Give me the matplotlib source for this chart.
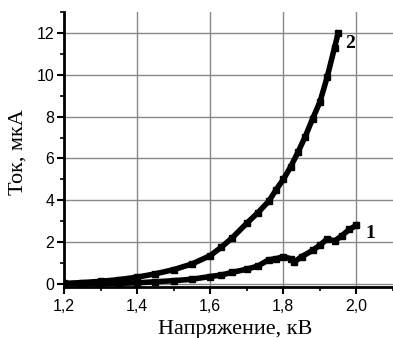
import matplotlib.pyplot as plt
from matplotlib.ticker import MultipleLocator, FuncFormatter

# curve 2 (upper)
u2 = [1.20, 1.25, 1.30, 1.35, 1.40, 1.45, 1.50, 1.55, 1.60, 1.63, 1.66, 1.70,
      1.73, 1.76, 1.78, 1.80, 1.82, 1.84, 1.86, 1.88, 1.90, 1.92, 1.94, 1.95]
i2 = [0.02, 0.06, 0.12, 0.20, 0.32, 0.48, 0.68, 0.95, 1.35, 1.75, 2.20, 2.90,
      3.40, 3.95, 4.50, 5.00, 5.60, 6.30, 7.05, 7.90, 8.70, 9.90, 11.3, 12.0]

# curve 1 (lower)
u1 = [1.20, 1.25, 1.30, 1.35, 1.40, 1.45, 1.50, 1.55, 1.60, 1.63, 1.66, 1.70,
      1.73, 1.76, 1.78, 1.80, 1.82, 1.83, 1.85, 1.88, 1.90, 1.92, 1.94, 1.96,
      1.98, 2.00]
i1 = [0.00, 0.00, 0.00, 0.02, 0.05, 0.10, 0.15, 0.22, 0.35, 0.42, 0.55, 0.70,
      0.85, 1.15, 1.20, 1.30, 1.20, 1.05, 1.30, 1.60, 1.85, 2.15, 2.05, 2.30,
      2.60, 2.80]

fig = plt.figure(figsize=(3.93, 3.38), dpi=100)
ax = fig.add_axes([0.163, 0.151, 0.837, 0.813])

ax.plot(u2, i2, color='black', lw=4, marker='s', ms=4.5)
ax.plot(u1, i1, color='black', lw=4, marker='s', ms=4.5)

ax.text(1.968, 11.3, '2', family='Liberation Serif', fontsize=14, fontweight='bold')
ax.text(2.025, 2.2, '1', family='Liberation Serif', fontsize=14, fontweight='bold')

ax.set_xlim(1.2, 2.1)
ax.set_ylim(-0.15, 13)
ax.xaxis.set_major_locator(MultipleLocator(0.2))
ax.xaxis.set_minor_locator(MultipleLocator(0.1))
ax.yaxis.set_major_locator(MultipleLocator(2))
ax.yaxis.set_minor_locator(MultipleLocator(1))
ax.xaxis.set_major_formatter(FuncFormatter(lambda v, p: f'{v:.1f}'.replace('.', ',')))

ax.grid(True, which='major', color='#888888', lw=1)
ax.set_axisbelow(True)
for s in ['top', 'right']:
    ax.spines[s].set_visible(False)
for s in ['left', 'bottom']:
    ax.spines[s].set_linewidth(2)

ax.tick_params(which='major', direction='out', length=5, width=1.5,
               labelsize=11.5, pad=2)
ax.tick_params(axis='x', which='major', pad=4)
ax.tick_params(which='minor', direction='out', length=3, width=1.2)
for lab in ax.get_xticklabels() + ax.get_yticklabels():
    lab.set_family('Liberation Sans')

ax.set_xlabel('Напряжение, кВ', family='Liberation Serif', fontsize=16)
ax.set_ylabel('Ток, мкА', family='Liberation Serif', fontsize=16)
ax.xaxis.set_label_coords(0.52, -0.12)
ax.yaxis.set_label_coords(-0.11, 0.49)

fig.savefig('out.png', dpi=100)
